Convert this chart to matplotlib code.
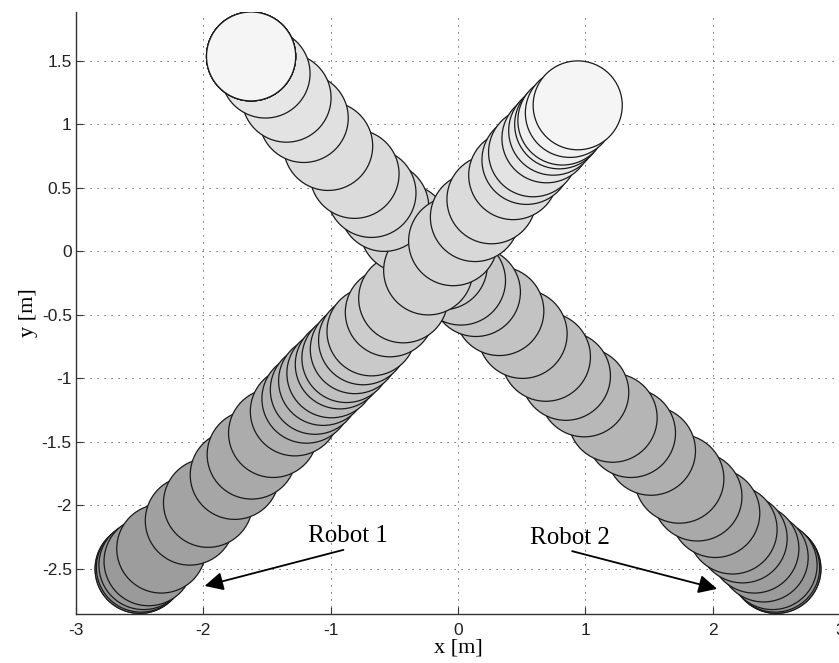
import numpy as np
import matplotlib.pyplot as plt
from matplotlib.patches import Circle

# Robot centre positions per time step [m]
robot1_x = [-2.5, -2.5, -2.49, -2.47, -2.43, -2.33, -2.106, -1.963, -1.753, -1.62,
            -1.452, -1.281, -1.19, -1.124, -1.059, -0.994, -0.928, -0.876, -0.81, -0.745,
            -0.679, -0.535, -0.43, -0.234, -0.038, 0.133, 0.263, 0.434, 0.538, 0.59,
            0.695, 0.748, 0.795, 0.82, 0.879, 0.94]
robot1_y = [-2.5, -2.5, -2.49, -2.47, -2.44, -2.34, -2.12, -1.98, -1.76, -1.60,
            -1.43, -1.26, -1.16, -1.09, -1.02, -0.96, -0.89, -0.84, -0.77, -0.70,
            -0.63, -0.48, -0.37, -0.15, 0.08, 0.27, 0.41, 0.60, 0.72, 0.78,
            0.89, 0.95, 1.00, 1.03, 1.09, 1.15]

robot2_x = [2.5, 2.5, 2.49, 2.47, 2.40, 2.327, 2.235, 2.156, 2.02, 1.88,
            1.738, 1.515, 1.358, 1.214, 0.991, 0.847, 0.69, 0.507, 0.324, 0.14,
            0.023, -0.12, -0.27, -0.42, -0.58, -0.68, -0.813, -1.02, -1.212, -1.347,
            -1.512, -1.625, -1.625, -1.625, -1.625, -1.625]
robot2_y = [-2.5, -2.5, -2.49, -2.47, -2.41, -2.34, -2.26, -2.19, -2.06, -1.93,
            -1.79, -1.57, -1.43, -1.31, -1.11, -0.98, -0.83, -0.65, -0.47, -0.32,
            -0.23, -0.11, 0.01, 0.18, 0.35, 0.46, 0.61, 0.83, 1.05, 1.21,
            1.40, 1.535, 1.535, 1.535, 1.535, 1.535]

radius = 0.35
xticks = [-3, -2, -1, 0, 1, 2, 3]
yticks = [-2.5, -2, -1.5, -1, -0.5, 0, 0.5, 1, 1.5]

fig = plt.figure(figsize=(8.39, 6.63), dpi=100)
ax = fig.add_axes([0.0906, 0.0735, 0.9106, 0.909])

# shade goes from dark (start) to light (end) with time
n = len(robot1_x)
shade = np.linspace(0.56, 0.96, n)
for k in range(n):
    for xs, ys in ((robot2_x, robot2_y), (robot1_x, robot1_y)):
        g = shade[k]
        ax.add_patch(Circle((xs[k], ys[k]), radius, facecolor=(g, g, g),
                            edgecolor='#1a1a1a', linewidth=0.9, zorder=3 + k))

ax.set_xlim(-3, 3)
ax.set_ylim(-2.857, 1.888)
ax.set_xticks(xticks)
ax.set_yticks(yticks)
ax.set_xticklabels([f'{t:g}' for t in xticks])
ax.set_yticklabels([f'{t:g}' for t in yticks])
ax.grid(True, color='#444444', linestyle=(0, (1.2, 6)), linewidth=0.7, zorder=0)
ax.set_axisbelow(True)

for s in ('top', 'right'):
    ax.spines[s].set_visible(False)
for s in ('left', 'bottom'):
    ax.spines[s].set_color('#333333')
    ax.spines[s].set_linewidth(1.0)

ax.tick_params(direction='in', length=5, width=0.8, colors='#333333',
               labelcolor='#222222', labelsize=12.5)
ax.tick_params(axis='x', pad=6)
ax.tick_params(axis='y', pad=3)
for lab in ax.get_xticklabels() + ax.get_yticklabels():
    lab.set_family('Liberation Sans')

ax.set_xlabel('x [m]', family='Liberation Serif', fontsize=16, labelpad=1)
ax.set_ylabel('y [m]', family='Liberation Serif', fontsize=16, labelpad=3)

arrow = dict(arrowstyle='-|>', color='black', lw=1.3, mutation_scale=28,
             shrinkA=0, shrinkB=0)
ax.annotate('', xy=(-1.99, -2.634), xytext=(-0.90, -2.35), arrowprops=arrow, zorder=60)
ax.annotate('', xy=(2.035, -2.657), xytext=(0.896, -2.36), arrowprops=arrow, zorder=60)
ax.text(-0.867, -2.24, 'Robot 1', family='Liberation Serif', fontsize=18,
        ha='center', va='center', zorder=60)
ax.text(0.876, -2.256, 'Robot 2', family='Liberation Serif', fontsize=18,
        ha='center', va='center', zorder=60)

fig.savefig('out.png', dpi=100)
